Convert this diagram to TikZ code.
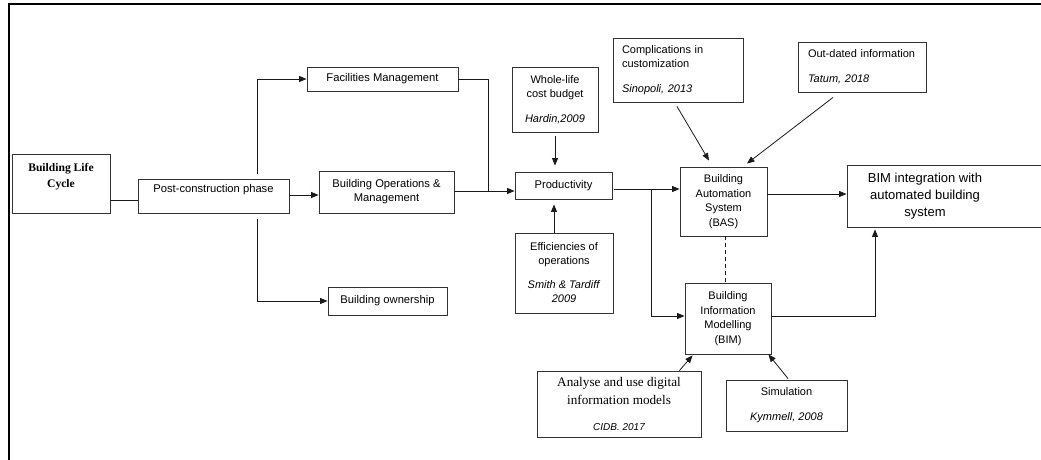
\documentclass[tikz,border=0pt]{standalone}
\usepackage{fontspec}
\setmainfont{Liberation Serif}
\setsansfont{Liberation Sans}
\usetikzlibrary{arrows.meta,calc}
\begin{document}
\begin{tikzpicture}[x=1pt,y=-1pt,
  bx/.style={draw=black!80, line width=0.9pt, inner sep=2pt, align=center,
    font=\sffamily\fontsize{11.2}{14}\selectfont},
  small/.style={font=\sffamily\fontsize{11}{14}\selectfont},
  ln/.style={line width=0.8pt, draw=black!90},
  arr/.style={ln, -{Triangle[length=7.5pt,width=6pt]}}
]
\useasboundingbox (0,0) rectangle (1041,460);
\draw[line width=1.8pt] (9,461) -- (9,4) -- (1042,4);

% nodes
\node[bx, minimum width=98pt, minimum height=59pt,
  font=\rmfamily\bfseries\fontsize{11.6}{16.5}\selectfont, text depth=16.5pt] (blc) at (61,183.5) {Building Life\\Cycle};
\node[bx, minimum width=151pt, minimum height=34pt, text depth=16pt] (pcp) at (213.5,196) {Post-construction phase};
\node[bx, minimum width=151pt, minimum height=24pt] (fm) at (382.5,79) {Facilities Management};
\node[bx, minimum width=135pt, minimum height=42pt] (bom) at (386.5,192) {Building Operations \&\\Management};
\node[bx, minimum width=119pt, minimum height=28pt] (bo) at (387.5,301) {Building ownership};
\node[bx, small, minimum width=86pt, minimum height=65pt] (wl) at (555,99.5) {Whole-life\\cost budget\\[11pt]\textit{Hardin,2009}};
\node[bx, minimum width=97pt, minimum height=27pt] (prod) at (563.5,185.5) {Productivity};
\node[bx, small, minimum width=98pt, minimum height=80pt] (eff) at (564,273) {Efficiencies of\\operations\\[10pt]\textit{Smith \& Tardiff}\\\textit{2009}};
\node[bx, small, text width=112pt, inner xsep=9pt, align=left, minimum height=64pt] (comp) at (678,70) {Complications in\\customization\\[11pt]\textit{Sinopoli, 2013}};
\node[bx, small, text width=108pt, inner xsep=10pt, align=left, minimum height=50pt] (out) at (862,67) {Out-dated information\\[11pt]\textit{Tatum, 2018}};
\node[bx, font=\sffamily\fontsize{11}{14.5}\selectfont, minimum width=87pt, minimum height=69pt] (bas) at (723.5,201.5) {Building\\Automation\\System\\(BAS)};
\node[bx, minimum width=196pt, minimum height=62pt, font=\sffamily\fontsize{13}{17}\selectfont] (bimi) at (945,196)
  {\begin{tabular}{@{}c@{}}BIM integration with\\automated building\\system\end{tabular}\hspace*{40pt}};
\node[bx, font=\sffamily\fontsize{11}{14.5}\selectfont, minimum width=86pt, minimum height=71pt] (bim) at (728,318.5) {Building\\Information\\Modelling\\(BIM)};
\node[bx, font=\rmfamily\fontsize{13.2}{18}\selectfont, minimum width=164pt, minimum height=66pt] (an) at (619,404)
  {Analyse and use digital\\information models\\[8pt]{\sffamily\itshape\fontsize{10}{12}\selectfont CIDB. 2017}};
\node[bx, small, minimum width=121pt, minimum height=51pt] (sim) at (786.5,405.5) {Simulation\\[11pt]\textit{Kymmell, 2008}};

% junctions
\coordinate (j1) at (488,191);
\coordinate (j2) at (651,189);

% connectors
\draw[ln] (blc.east |- 0,200) -- (pcp.west |- 0,200);
\draw[arr] ([yshift=5pt]pcp.north -| 257,0) |- (fm.west);
\draw[arr] ([yshift=-6pt]pcp.south -| 257,0) |- (bo.west);
\draw[arr] (pcp.east |- 0,195) -- (bom.west |- 0,195);
\draw[ln] (fm.east) -| (j1);
\draw[arr] (bom.east |- j1) -- (prod.west |- j1);
\draw[arr, shorten <=4pt, shorten >=6pt] (wl.south) -- (wl.south |- prod.north);
\draw[arr, shorten >=5pt] (eff.north -| 554,0) -- (prod.south -| 554,0);
\draw[arr, shorten <=2pt] (prod.east |- j2) -- (bas.west |- j2);
\draw[arr] (j2) |- (bim.west |- 0,316);
\draw[arr] ($(comp.south)+(-1,4)$) -- ($(bas.north)+(-14.5,-6)$);
\draw[arr] ($(out.south)+(-29,5)$) -- ($(bas.north)+(23.5,-3)$);
\draw[arr] (bas.east |- 0,194) -- (bimi.west |- 0,194);
\draw[ln, dash pattern=on 4pt off 3pt] (bas.south -| 725,0) -- (bim.north -| 725,0);
\draw[arr, shorten >=2pt] (bim.east |- 0,316) -| (bimi.south -| 875,0);
\draw[arr] ($(an.north east)+(-22,0)$) -- ($(bim.south west)+(8,1)$);
\draw[arr] ($(sim.north)+(1.5,-1)$) -- ($(bim.south east)+(-3,0)$);
\end{tikzpicture}
\end{document}
